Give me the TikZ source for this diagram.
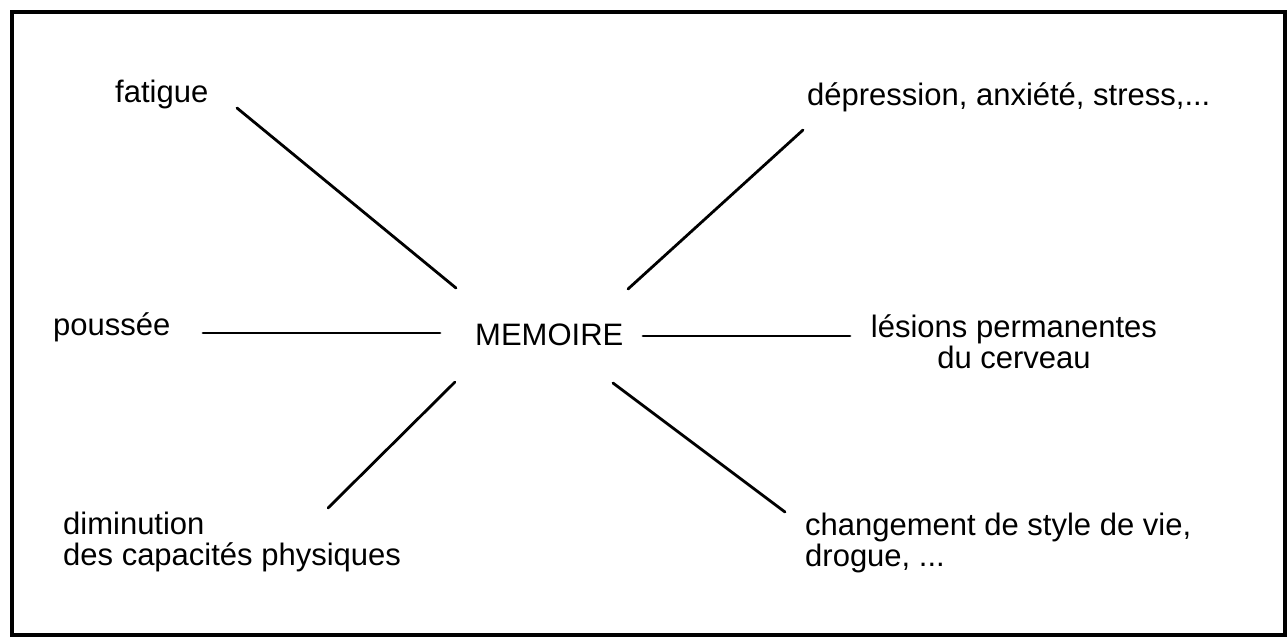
\documentclass[tikz,border=0pt]{standalone}
\usepackage{fontspec}
\setmainfont{Liberation Sans}
\begin{document}
\begin{tikzpicture}[x=1pt,y=-1pt,
  lbl/.style={inner sep=0pt,font=\fontsize{31}{31}\selectfont},
  link/.style={line width=2.8pt,line cap=round}]
\useasboundingbox (0,0) rectangle (1288,641);
\draw[line width=4.5pt] (12,12) rectangle (1285,635);
% labels
\node[lbl,anchor=base west] (mem) at (475,345) {MEMOIRE};
\node[lbl,anchor=base west] (fat) at (115,102) {fatigue};
\node[lbl,anchor=base west] (pou) at (53,335) {poussée};
\node[lbl,anchor=base west,align=left] (dim) at (63,565) {diminution\\des capacités physiques};
\node[lbl,anchor=base west] (dep) at (807,105) {dépression, anxiété, stress,...};
\node[lbl,anchor=base,align=center] (les) at (1014,368) {lésions permanentes\\du cerveau};
\node[lbl,anchor=base west,align=left] (chg) at (805,566) {changement de style de vie,\\drogue, ...};
% connector end points
\coordinate (f1) at (237,108); \coordinate (f2) at (456,288);
\coordinate (d1) at (803,130); \coordinate (d2) at (628,289);
\coordinate (p1) at (203,333); \coordinate (p2) at (440,333);
\coordinate (l1) at (643,336); \coordinate (l2) at (850,336);
\coordinate (m1) at (455,382); \coordinate (m2) at (328,508);
\coordinate (c1) at (613,383); \coordinate (c2) at (785,512);
\draw[link] (f1) -- (f2);
\draw[link] (d1) -- (d2);
\draw[link] (p1) -- (p2);
\draw[link] (l1) -- (l2);
\draw[link] (m1) -- (m2);
\draw[link] (c1) -- (c2);
\end{tikzpicture}
\end{document}
